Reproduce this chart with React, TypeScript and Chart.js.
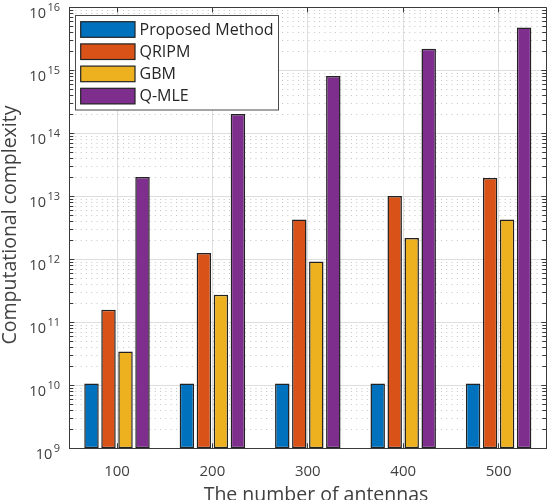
import React, { useEffect, useRef } from "react";
import { Chart, registerables } from "chart.js";

Chart.register(...registerables);

// ---------- data ----------
const categories = ["100", "200", "300", "400", "500"];
const seriesNames = ["Proposed Method", "QRIPM", "GBM", "Q-MLE"];
const seriesColors = ["#0072BD", "#D95319", "#EDB120", "#7E2F8E"];
const proposed = [1.07e10, 1.07e10, 1.07e10, 1.07e10, 1.07e10];
const qripm = [1.58e11, 1.26e12, 4.3e12, 1.01e13, 1.96e13];
const gbm = [3.43e10, 2.73e11, 9.26e11, 2.17e12, 4.3e12];
const qmle = [2.03e13, 2.02e14, 8.1e14, 2.19e15, 4.8e15];
const yTickExponents = [9, 10, 11, 12, 13, 14, 15, 16];
const xTitle = "The number of antennas";
const yTitle = "Computational complexity";

// ---------- style ----------
const FONT = "'Open Sans', 'Noto Sans', sans-serif";
const AXIS = "#3a3a3a";
const TEXT = "#404040";
const MAJOR_GRID = "#dedede";
const MINOR_GRID = "#c4c4c4";

const isMajor = (v: number) => {
  const l = Math.log10(v);
  return Math.abs(l - Math.round(l)) < 1e-9;
};

const decorPlugin = {
  id: "decor",
  beforeDatasetsDraw(chart: any) {
    const { ctx, chartArea: a, scales } = chart;
    const y = scales.y;
    const x = scales.x;
    ctx.save();
    ctx.strokeStyle = AXIS;
    ctx.lineWidth = 1;
    ctx.beginPath();
    for (const t of y.ticks) {
      const py = Math.round(y.getPixelForValue(t.value) - 0.5) + 0.5;
      const len = isMajor(t.value) ? 5 : 4;
      ctx.moveTo(a.left, py);
      ctx.lineTo(a.left + len, py);
      ctx.moveTo(a.right, py);
      ctx.lineTo(a.right - len, py);
    }
    for (let i = 0; i < categories.length; i++) {
      const px = Math.round(x.getPixelForValue(i) - 0.5) + 0.5;
      ctx.moveTo(px, a.top);
      ctx.lineTo(px, a.top + 5);
      ctx.moveTo(px, a.bottom);
      ctx.lineTo(px, a.bottom - 5);
    }
    ctx.stroke();
    ctx.restore();
  },
  afterDatasetsDraw(chart: any) {
    const { ctx, chartArea: a, scales } = chart;
    const y = scales.y;
    ctx.save();
    // box top & right
    ctx.strokeStyle = AXIS;
    ctx.lineWidth = 1;
    ctx.beginPath();
    const topY = Math.round(a.top - 0.5) + 0.5;
    const rightX = Math.round(a.right - 0.5) + 0.5;
    ctx.moveTo(a.left, topY);
    ctx.lineTo(rightX, topY);
    ctx.lineTo(rightX, a.bottom);
    ctx.stroke();

    // y tick labels 10^k
    ctx.fillStyle = TEXT;
    ctx.textBaseline = "alphabetic";
    ctx.textAlign = "left";
    const labelRight = 60;
    for (const e of yTickExponents) {
      const py = y.getPixelForValue(Math.pow(10, e));
      const expStr = String(e);
      ctx.font = `11px ${FONT}`;
      const ew = ctx.measureText(expStr).width;
      ctx.font = `14.5px ${FONT}`;
      const bw = ctx.measureText("10").width;
      const gap = 1.5;
      const bx = labelRight - ew - gap - bw;
      ctx.fillText("10", bx, py + 10.6);
      ctx.font = `11px ${FONT}`;
      ctx.fillText(expStr, labelRight - ew, py + 4);
    }

    // axis titles
    ctx.font = `19.5px ${FONT}`;
    ctx.fillStyle = TEXT;
    ctx.textAlign = "center";
    ctx.textBaseline = "alphabetic";
    ctx.fillText(xTitle, 316, 500.5);
    ctx.save();
    ctx.translate(15.5, 225);
    ctx.rotate(-Math.PI / 2);
    ctx.fillText(yTitle, 0, 0);
    ctx.restore();

    // legend
    const lx = 75.5, ly = 15.5, lw = 203, lh = 94.5;
    ctx.fillStyle = "#ffffff";
    ctx.fillRect(lx, ly, lw, lh);
    ctx.strokeStyle = "#4a4a4a";
    ctx.lineWidth = 1;
    ctx.strokeRect(lx, ly, lw, lh);
    const ds = chart.data.datasets;
    ctx.font = `16px ${FONT}`;
    ctx.textAlign = "left";
    ctx.textBaseline = "middle";
    for (let i = 0; i < ds.length; i++) {
      const sy = 21.7 + i * 22.2;
      ctx.fillStyle = ds[i].backgroundColor;
      ctx.fillRect(80.7, sy, 54.3, 15.6);
      ctx.strokeStyle = "#222222";
      ctx.lineWidth = 1.2;
      ctx.strokeRect(80.7, sy, 54.3, 15.6);
      ctx.fillStyle = "#262626";
      ctx.fillText(ds[i].label, 139.5, sy + 7.8 + 0.5);
    }
    ctx.restore();
  },
};

export default function App() {
  const canvasRef = useRef<HTMLCanvasElement | null>(null);

  useEffect(() => {
    const canvas = canvasRef.current;
    if (!canvas) return;
    const seriesValues = [proposed, qripm, gbm, qmle];
    const chart = new Chart(canvas, {
      type: "bar",
      data: {
        labels: categories,
        datasets: seriesNames.map((name, i) => ({
          label: name,
          data: seriesValues[i],
          backgroundColor: seriesColors[i],
          borderColor: "#222222",
          borderWidth: 1.5,
          borderSkipped: false,
          categoryPercentage: 0.713,
          barPercentage: 0.85,
        })),
      },
      options: {
        animation: false,
        responsive: false,
        maintainAspectRatio: false,
        layout: { padding: { left: 0, right: 1.7, top: 7.3, bottom: 0 } },
        plugins: {
          legend: { display: false },
          tooltip: { enabled: false },
          title: { display: false },
        },
        scales: {
          x: {
            type: "category",
            offset: true,
            grid: {
              display: true,
              offset: false,
              drawTicks: false,
              color: MAJOR_GRID,
              lineWidth: 1,
            },
            border: { display: true, color: AXIS, width: 1 },
            ticks: {
              color: TEXT,
              font: { family: FONT, size: 15 },
              padding: 14,
              maxRotation: 0,
              autoSkip: false,
            },
            afterFit: (scale: any) => {
              scale.height = 51.7;
            },
          },
          y: {
            type: "logarithmic",
            min: Math.pow(10, yTickExponents[0]),
            max: Math.pow(10, yTickExponents[yTickExponents.length - 1]),
            grid: {
              display: true,
              drawTicks: false,
              lineWidth: 1,
              color: (c: any) =>
                c.tick && isMajor(c.tick.value) ? MAJOR_GRID : MINOR_GRID,
            },
            border: {
              display: true,
              color: AXIS,
              width: 1,
              dash: (c: any) =>
                c.tick && !isMajor(c.tick.value) ? [1, 4.3] : [],
            },
            ticks: { display: false, autoSkip: false },
            afterBuildTicks: (scale: any) => {
              const ticks: { value: number }[] = [];
              for (let e = yTickExponents[0]; e < yTickExponents[yTickExponents.length - 1]; e++) {
                for (let m = 1; m <= 9; m++) ticks.push({ value: m * Math.pow(10, e) });
              }
              ticks.push({ value: Math.pow(10, yTickExponents[yTickExponents.length - 1]) });
              scale.ticks = ticks;
            },
            afterFit: (scale: any) => {
              scale.width = 69.3;
            },
          },
        },
      },
      plugins: [decorPlugin],
    } as any);
    return () => chart.destroy();
  }, []);

  return (
    <div
      style={{
        position: "absolute",
        left: 0,
        top: 0,
        width: 548,
        height: 500,
        background: "#ffffff",
        overflow: "hidden",
      }}
    >
      <canvas ref={canvasRef} width={548} height={500} style={{ width: 548, height: 500, display: "block" }} />
    </div>
  );
}
